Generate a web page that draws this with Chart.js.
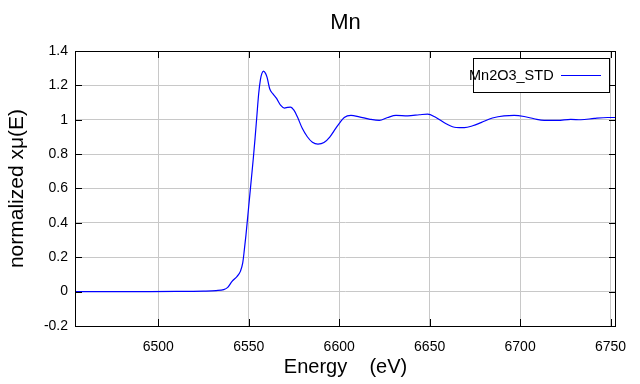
<!DOCTYPE html>
<html>
<head>
<meta charset="utf-8">
<script src="https://cdn.jsdelivr.net/npm/chart.js@4"></script>
<style>
html, body { margin: 0; padding: 0; background: #fff; }
canvas { display: block; }
</style>
</head>
<body>
<canvas id="chart" width="640" height="384"></canvas>
<script>
let seriesName = "Mn2O3_STD";
let energy = [6454, 6470, 6490, 6510, 6525, 6532, 6536.2, 6538.4, 6540.8, 6543.6, 6545.4, 6546.7,
	6547.6, 6548.5, 6549.5, 6550.5, 6551.5, 6552.5, 6553.5, 6554.5, 6555.5, 6556.5, 6557.3, 6558.2,
	6559.3, 6560.2, 6561.6, 6563.3, 6565.4, 6567.6, 6569.8, 6571.5, 6573.1, 6575, 6576.9, 6579.6,
	6582.4, 6585.2, 6588.3, 6591.6, 6594.9, 6598.1, 6600.5, 6602.8, 6606.5, 6611.1, 6616.6, 6622.2,
	6626.8, 6631.4, 6637.9, 6644.3, 6648.9, 6653.5, 6659.1, 6664.6, 6669.2, 6673.8, 6678.4, 6684.7,
	6691.1, 6696.7, 6702.2, 6707.7, 6713.3, 6720.7, 6728, 6733.6, 6741, 6748.4, 6753.5];
let mu = [0, 0, 0.0005, 0.001, 0.003, 0.006, 0.012, 0.025, 0.06, 0.089, 0.118, 0.167,
	0.244, 0.33, 0.44, 0.55, 0.66, 0.77, 0.89, 1.02, 1.15, 1.235, 1.27, 1.283,
	1.27, 1.245, 1.18, 1.152, 1.124, 1.085, 1.068, 1.072, 1.074, 1.056, 1.017, 0.95,
	0.901, 0.869, 0.858, 0.867, 0.901, 0.95, 0.985, 1.013, 1.025, 1.017, 1.004, 0.996,
	1.013, 1.025, 1.023, 1.029, 1.033, 1.013, 0.977, 0.955, 0.954, 0.965, 0.983, 1.01,
	1.023, 1.025, 1.019, 1.006, 0.996, 0.996, 1.002, 1.0, 1.008, 1.013, 1.013];
let xTicks = [6500, 6550, 6600, 6650, 6700, 6750];
let yTicks = [-0.2, 0, 0.2, 0.4, 0.6, 0.8, 1, 1.2, 1.4];

let points = [];
for(let i = 0; i < energy.length; i++){
	points.push({x: energy[i], y: mu[i]});
}

Chart.defaults.font.family = "'Liberation Sans', Arial, sans-serif";
Chart.defaults.color = "#000";

//black frame with inward ticks on all four sides, plus the boxed legend
let framePlugin = {
	id: "frame",
	afterDraw(chart){
		let ctx = chart.ctx;
		let a = chart.chartArea;
		let sx = chart.scales.x;
		let sy = chart.scales.y;
		ctx.save();
		ctx.strokeStyle = "#000";
		ctx.lineWidth = 1;
		ctx.beginPath();
		for(let t of sx.ticks){
			let px = Math.round(sx.getPixelForValue(t.value)) + 0.5;
			ctx.moveTo(px, a.bottom); ctx.lineTo(px, a.bottom - 7);
			ctx.moveTo(px, a.top); ctx.lineTo(px, a.top + 7);
		}
		for(let t of sy.ticks){
			let py = Math.round(sy.getPixelForValue(t.value)) + 0.5;
			ctx.moveTo(a.left, py); ctx.lineTo(a.left + 7, py);
			ctx.moveTo(a.right, py); ctx.lineTo(a.right - 7, py);
		}
		ctx.stroke();
		ctx.strokeRect(Math.round(a.left) + 0.5, Math.round(a.top) + 0.5, Math.round(a.right - a.left) - 1, Math.round(a.bottom - a.top));

		//legend
		let bx = Math.round(a.right) - 143;
		let by = Math.round(a.top) + 7;
		ctx.fillStyle = "#fff";
		ctx.fillRect(bx, by, 136, 34);
		ctx.strokeRect(bx + 0.5, by + 0.5, 136, 34);
		ctx.fillStyle = "#000";
		ctx.font = "14.5px 'Liberation Sans', Arial, sans-serif";
		ctx.textAlign = "left";
		ctx.textBaseline = "middle";
		ctx.fillText(chart.data.datasets[0].label, bx - 4, by + 18);
		ctx.strokeStyle = chart.data.datasets[0].borderColor;
		ctx.lineWidth = chart.data.datasets[0].borderWidth;
		ctx.beginPath();
		ctx.moveTo(bx + 88, by + 17.5);
		ctx.lineTo(bx + 128, by + 17.5);
		ctx.stroke();
		ctx.restore();
	}
};

let ctx = document.getElementById("chart").getContext("2d");
let chart = new Chart(ctx, {
	type: "line",
	data: {
		datasets: [{
			label: seriesName,
			data: points,
			borderColor: "#0000ff",
			borderWidth: 1.2,
			pointRadius: 0,
			fill: false,
			cubicInterpolationMode: "monotone"
		}]
	},
	options: {
		responsive: false,
		animation: false,
		devicePixelRatio: 1,
		layout: {padding: {top: 0, left: 0, right: 24, bottom: 0}},
		plugins: {
			legend: {display: false},
			tooltip: {enabled: false},
			title: {
				display: true,
				text: "Mn",
				fullSize: false,
				color: "#000",
				font: {size: 22, weight: "normal"},
				padding: {top: 10, bottom: 14.6}
			}
		},
		scales: {
			x: {
				type: "linear",
				min: 6454,
				max: 6753,
				afterBuildTicks: s => { s.ticks = xTicks.map(v => ({value: v})); },
				afterFit: s => { s.height = 58; },
				grid: {color: "#c8c8c8", drawTicks: false},
				border: {display: false},
				ticks: {padding: 13, maxRotation: 0, autoSkip: false, font: {size: 14}, callback: v => String(v)},
				title: {display: true, text: "Energy    (eV)", font: {size: 20}, padding: {top: 0, bottom: 5}}
			},
			y: {
				min: -0.2,
				max: 1.4,
				afterBuildTicks: s => { s.ticks = yTicks.map(v => ({value: v})); },
				afterFit: s => { s.width = 75; },
				grid: {color: "#c8c8c8", drawTicks: false},
				border: {display: false},
				ticks: {padding: 7, autoSkip: false, font: {size: 14}, callback: v => String(Math.round(v * 10) / 10)},
				title: {display: true, text: "normalized xμ(E)", font: {size: 21}, padding: {top: 5, bottom: 0}}
			}
		}
	},
	plugins: [framePlugin]
});
</script>
</body>
</html>
